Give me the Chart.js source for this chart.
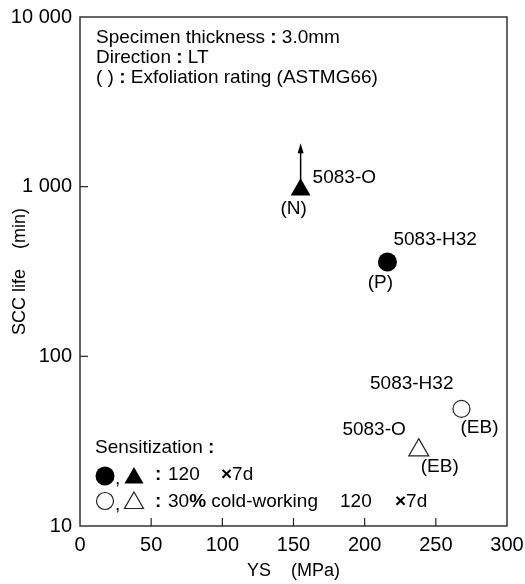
<!DOCTYPE html>
<html><head><meta charset="utf-8">
<script src="https://cdn.jsdelivr.net/npm/chart.js@4/dist/chart.umd.min.js"></script>
<style>html,body{margin:0;padding:0;background:#fff}#wrap{width:525px;height:584px}</style>
</head><body><div id="wrap"><canvas id="c" width="525" height="584"></canvas></div>
<script>
// ---- data ----
const alloys = ['5083-O', '5083-H32'];
const ysSensitized = [155, 216];          // YS (MPa), sensitized only
const sccSensitized = [960, 360];         // SCC life (min)
const ratingSensitized = ['(N)', '(P)'];
const ysColdWorked = [238, 268];          // 30% cold-working + sensitized
const sccColdWorked = [28, 49];
const ratingColdWorked = ['(EB)', '(EB)'];
const arrowFrom = 960, arrowTo = 1800;    // 5083-O: no failure, arrow up
const xTicks = [0, 50, 100, 150, 200, 250, 300];
const yTicks = [10, 100, 1000, 10000];
const yTickLabels = ['10', '100', '1 000', '10 000'];

const FONT = '"Liberation Sans", Arial, Helvetica, sans-serif';
const FS = 19;

// ---- layout of annotations (pixel offsets relative to markers) ----
const labelLayout = {
  s0name: {dx: 12, dy: -12, align: 'left'},
  s0rate: {dx: -7, dy: 19, align: 'center'},
  s1name: {dx: 6, dy: -22, align: 'left'},
  s1rate: {dx: -7, dy: 21, align: 'center'},
  c0name: {dx: -13, dy: -20, align: 'right'},
  c0rate: {dx: 21, dy: 17, align: 'center'},
  c1name: {dx: -8, dy: -25, align: 'right'},
  c1rate: {dx: 18, dy: 19, align: 'center'}
};

function segs(ctx, x, y, parts, size) {
  let cx = x;
  for (const p of parts) {
    ctx.font = (p.b ? 'bold ' : '') + size + 'px ' + FONT;
    ctx.textAlign = 'left';
    ctx.fillText(p.t, cx, y);
    cx += ctx.measureText(p.t).width;
  }
  return cx;
}
function tri(ctx, x, y, r, fill) {
  ctx.beginPath();
  for (let i = 0; i < 3; i++) {
    const a = i * 2 * Math.PI / 3;
    const px = x + Math.sin(a) * r, py = y - Math.cos(a) * r;
    i ? ctx.lineTo(px, py) : ctx.moveTo(px, py);
  }
  ctx.closePath();
  if (fill) { ctx.fillStyle = '#000'; ctx.fill(); }
  else { ctx.fillStyle = '#fff'; ctx.fill(); ctx.strokeStyle = '#222'; ctx.lineWidth = 1.2; ctx.stroke(); }
  ctx.fillStyle = '#000';
}
function circ(ctx, x, y, r, fill) {
  ctx.beginPath(); ctx.arc(x, y, r, 0, Math.PI * 2);
  if (fill) { ctx.fillStyle = '#000'; ctx.fill(); }
  else { ctx.fillStyle = '#fff'; ctx.fill(); ctx.strokeStyle = '#222'; ctx.lineWidth = 1.2; ctx.stroke(); }
  ctx.fillStyle = '#000';
}

const framePlugin = {
  id: 'frame',
  beforeDatasetsDraw(chart) {
    const {ctx, scales: {x, y}} = chart;
    ctx.save();
    const ax = x.getPixelForValue(ysSensitized[0]);
    const y0 = y.getPixelForValue(arrowFrom), y1 = y.getPixelForValue(arrowTo);
    ctx.strokeStyle = '#000'; ctx.lineWidth = 1.5;
    ctx.beginPath(); ctx.moveTo(ax, y0); ctx.lineTo(ax, y1 + 6); ctx.stroke();
    ctx.fillStyle = '#000';
    ctx.beginPath(); ctx.moveTo(ax, y1); ctx.lineTo(ax - 3, y1 + 10); ctx.lineTo(ax + 3, y1 + 10); ctx.closePath(); ctx.fill();
    ctx.restore();
  },
  afterDatasetsDraw(chart) {
    const {ctx, chartArea: a, scales: {x, y}} = chart;
    ctx.save();
    ctx.strokeStyle = '#333'; ctx.lineWidth = 1.5;
    ctx.strokeRect(a.left, a.top, a.right - a.left, a.bottom - a.top);
    ctx.lineWidth = 1.2; ctx.strokeStyle = '#222';
    x.ticks.forEach(t => {
      if (t.value <= x.min || t.value >= x.max) return;
      const px = x.getPixelForValue(t.value);
      ctx.beginPath(); ctx.moveTo(px, a.bottom); ctx.lineTo(px, a.bottom - 8); ctx.stroke();
    });
    y.ticks.forEach(t => {
      if (t.value <= y.min || t.value >= y.max) return;
      const py = y.getPixelForValue(t.value);
      ctx.beginPath(); ctx.moveTo(a.left, py); ctx.lineTo(a.left + 8, py); ctx.stroke();
    });

    ctx.fillStyle = '#000';
    ctx.textBaseline = 'middle';
    const hx = a.left + 16;
    segs(ctx, hx, 38, [{t: 'Specimen thickness '}, {t: ':', b: 1}, {t: ' 3.0mm'}], FS);
    segs(ctx, hx, 58, [{t: 'Direction '}, {t: ':', b: 1}, {t: ' LT'}], FS);
    segs(ctx, hx, 78, [{t: '( ) '}, {t: ':', b: 1}, {t: ' Exfoliation rating (ASTMG66)'}], FS);

    const put = (txt, px, py, L) => {
      ctx.font = FS + 'px ' + FONT;
      ctx.textAlign = L.align;
      ctx.fillText(txt, px + L.dx, py + L.dy);
    };
    for (let i = 0; i < 2; i++) {
      const sx = x.getPixelForValue(ysSensitized[i]), sy = y.getPixelForValue(sccSensitized[i]);
      put(alloys[i], sx, sy, labelLayout['s' + i + 'name']);
      put(ratingSensitized[i], sx, sy, labelLayout['s' + i + 'rate']);
      const cx = x.getPixelForValue(ysColdWorked[i]), cy = y.getPixelForValue(sccColdWorked[i]);
      put(alloys[i], cx, cy, labelLayout['c' + i + 'name']);
      put(ratingColdWorked[i], cx, cy, labelLayout['c' + i + 'rate']);
    }

    // sensitization key
    segs(ctx, 95, 448, [{t: 'Sensitization '}, {t: ':', b: 1}], FS);
    circ(ctx, 105, 476, 9.5, true);
    segs(ctx, 115, 479, [{t: ','}], FS);
    tri(ctx, 134, 478, 11, true);
    segs(ctx, 155, 475, [{t: ':', b: 1}], FS);
    segs(ctx, 168, 475, [{t: '120'}], FS);
    segs(ctx, 221, 475, [{t: '×', b: 1}, {t: '7d'}], FS);
    circ(ctx, 105, 501, 8.5, false);
    segs(ctx, 115, 505, [{t: ','}], FS);
    tri(ctx, 134, 503, 11, false);
    segs(ctx, 155, 502, [{t: ':', b: 1}], FS);
    segs(ctx, 168, 502, [{t: '30'}, {t: '%', b: 1}, {t: ' cold-working'}], FS);
    segs(ctx, 340, 502, [{t: '120'}], FS);
    segs(ctx, 395, 502, [{t: '×', b: 1}, {t: '7d'}], FS);
    ctx.restore();
  }
};

new Chart(document.getElementById('c'), {
  type: 'scatter',
  data: {
    datasets: [
      {label: '5083-O sensitized', data: [{x: ysSensitized[0], y: sccSensitized[0]}],
        pointStyle: 'triangle', radius: 11.5, backgroundColor: '#000', borderColor: '#000', borderWidth: 0},
      {label: '5083-H32 sensitized', data: [{x: ysSensitized[1], y: sccSensitized[1]}],
        pointStyle: 'circle', radius: 9.5, backgroundColor: '#000', borderColor: '#000', borderWidth: 0},
      {label: '5083-O cold-worked', data: [{x: ysColdWorked[0], y: sccColdWorked[0]}],
        pointStyle: 'triangle', radius: 11.5, backgroundColor: '#fff', borderColor: '#222', borderWidth: 1.2},
      {label: '5083-H32 cold-worked', data: [{x: ysColdWorked[1], y: sccColdWorked[1]}],
        pointStyle: 'circle', radius: 8.5, backgroundColor: '#fff', borderColor: '#222', borderWidth: 1.2}
    ]
  },
  options: {
    responsive: false,
    animation: false,
    events: [],
    layout: {padding: {top: 17, right: 18, left: 0, bottom: 0}},
    plugins: {legend: {display: false}, tooltip: {enabled: false}},
    scales: {
      x: {
        type: 'linear', min: 0, max: 300,
        afterFit: s => { s.height = 58; s.paddingLeft = 0; s.paddingRight = 0; },
        afterBuildTicks: s => { s.ticks = xTicks.map(v => ({value: v})); },
        ticks: {color: '#000', padding: 7, font: {family: FONT, size: 20}, maxRotation: 0, autoSkip: false, callback: v => String(v)},
        grid: {display: false, drawTicks: false},
        border: {display: false},
        title: {display: true, text: 'YS    (MPa)', color: '#000', font: {family: FONT, size: 18}, padding: {top: 0, bottom: 2}}
      },
      y: {
        type: 'logarithmic', min: 10, max: 10000,
        afterFit: s => { s.width = 80; s.paddingTop = 0; s.paddingBottom = 0; },
        afterBuildTicks: s => { s.ticks = yTicks.map(v => ({value: v})); },
        ticks: {color: '#000', padding: 8, font: {family: FONT, size: 20}, autoSkip: false,
          callback: (v) => yTickLabels[yTicks.indexOf(v)] ?? ''},
        grid: {display: false, drawTicks: false},
        border: {display: false},
        title: {display: true, text: 'SCC life    (min)', color: '#000', font: {family: FONT, size: 18}, padding: {top: 9, bottom: 0}}
      }
    }
  },
  plugins: [framePlugin]
});
</script>
</body></html>
